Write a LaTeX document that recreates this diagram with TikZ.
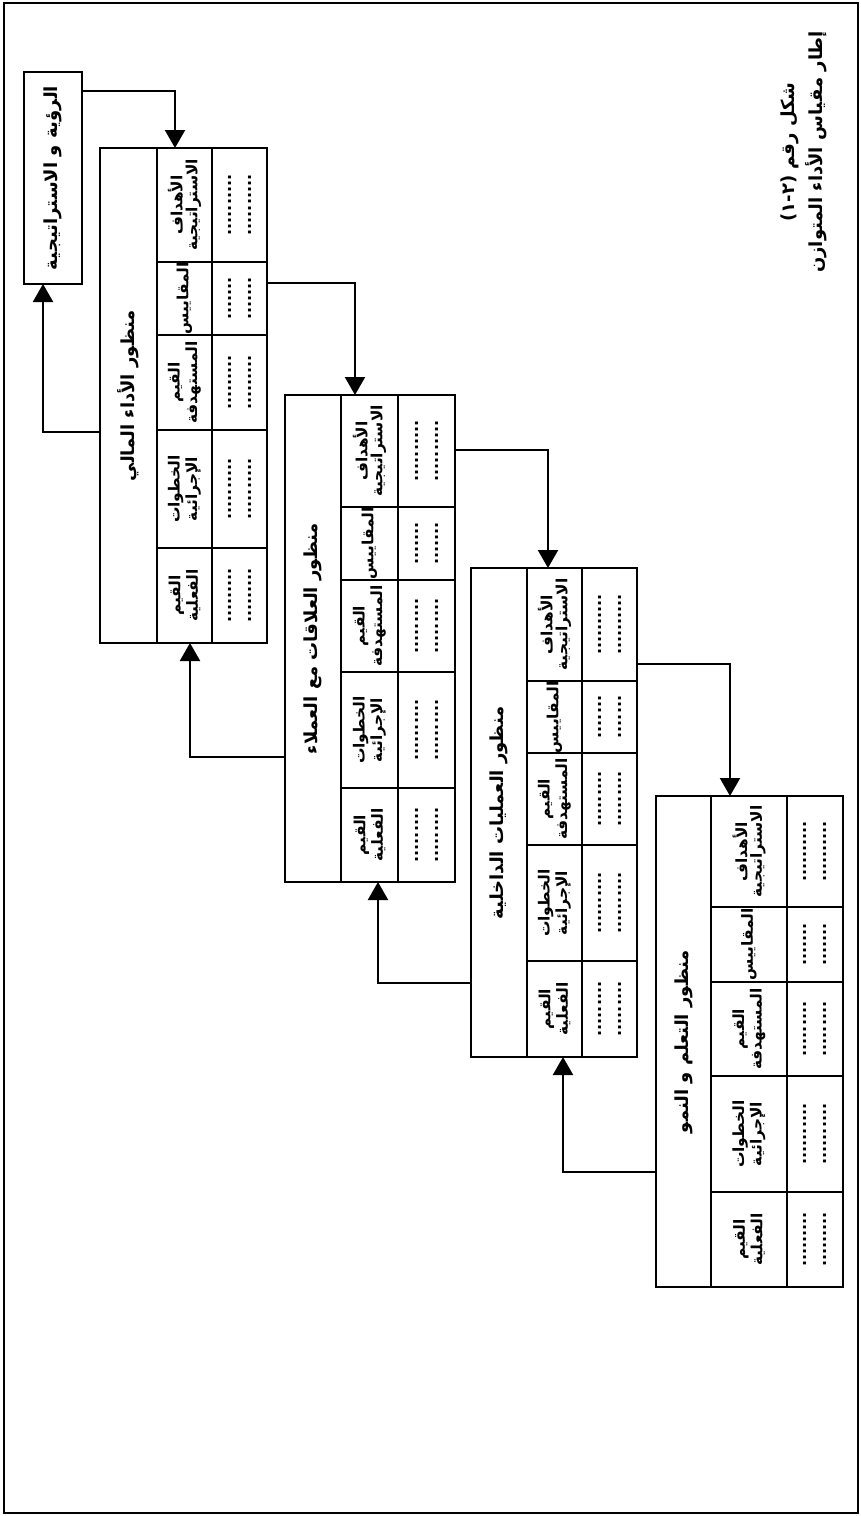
\documentclass[tikz,border=0pt]{standalone}
\usepackage{fontspec}
\usetikzlibrary{arrows.meta,calc}
\newfontfamily\arabicfont[Script=Arabic]{DejaVu Sans}
\TeXXeTstate=1
\newcommand\rtl[1]{\beginR #1\endR}

% column labels of every perspective table
\newcommand\Lgoal{\rtl{الأهداف}\\\rtl{الاستراتيجية}}
\newcommand\Lmeas{\rtl{المقاييس}}
\newcommand\Ltarget{\rtl{القيم}\\\rtl{المستهدفة}}
\newcommand\Lsteps{\rtl{الخطوات}\\\rtl{الإجرائية}}
\newcommand\Lactual{\rtl{القيم}\\\rtl{الفعلية}}

% one header cell and the dotted cell beside it (#8: extra label style)
\newcommand\cellpair[8]{%
  \node[box, anchor=north west, minimum width={(\xc-\xb)*0.5pt}, minimum height={(#4-#3)*0.5pt}] (p#1h#2) at (\xb,#3) {};
  \node[box, anchor=north west, minimum width={(\xd-\xc)*0.5pt}, minimum height={(#4-#3)*0.5pt}] (p#1d#2) at (\xc,#3) {};
  \node[lbl,#8] (p#1hl#2) at (p#1h#2.center) {#5};
  \node[dotsty] (p#1dl#2) at (p#1d#2.center) {#6\\#7};
}

% a whole perspective: outer frame, title strip and five columns
\newcommand\panel[2]{%
  \node[box, anchor=north west, minimum width={(\xd-\xa)*0.5pt}, minimum height={(\yf-\ya)*0.5pt}] (p#1) at (\xa,\ya) {};
  \node[box, anchor=north west, minimum width={(\xb-\xa)*0.5pt}, minimum height={(\yf-\ya)*0.5pt}] (p#1t) at (\xa,\ya) {};
  \node[ttl] (p#1title) at (p#1t.center) {#2};
  \cellpair{#1}{1}{\ya}{\yb}{\Lgoal}{..........}{..........}{}
  \cellpair{#1}{2}{\yb}{\yc}{\Lmeas}{.......}{.......}{align=none}
  \cellpair{#1}{3}{\yc}{\yd}{\Ltarget}{.........}{.........}{}
  \cellpair{#1}{4}{\yd}{\ye}{\Lsteps}{..........}{..........}{}
  \cellpair{#1}{5}{\ye}{\yf}{\Lactual}{.........}{.........}{}
}

\begin{document}
\begin{tikzpicture}[x=0.5pt,y=-0.5pt,
  box/.style={draw, line width=0.9pt, inner sep=0pt, outer sep=0pt, rectangle},
  lbl/.style={rotate=90, align=center, inner sep=0pt,
    font=\arabicfont\bfseries\fontsize{7.7}{7.4}\selectfont},
  dotsty/.style={rotate=90, align=center, inner sep=0pt,
    font=\arabicfont\bfseries\fontsize{8}{10}\selectfont},
  ttl/.style={rotate=90, inner sep=0pt,
    font=\arabicfont\bfseries\fontsize{9}{11}\selectfont},
  captxt/.style={rotate=90, align=center, inner sep=0pt,
    font=\arabicfont\bfseries\fontsize{9}{14}\selectfont},
  link/.style={line width=1.1pt, -{Triangle[length=9pt,width=10pt]}},
]
\useasboundingbox (0,0) rectangle (861,1516);

% page frame
\draw[line width=1pt] (4,3) rectangle (858,1513);

% caption
\node[captxt] (caption) at (804,152) {\beginR شكل رقم (٢-١)\endR\\\beginR إطار مقياس الأداء المتوازن\endR};

% vision and strategy
\node[box, anchor=north west, minimum width=29pt, minimum height=106pt] (vis) at (24,72) {};
\node[ttl] (vistxt) at (vis.center) {\beginR الرؤية و الاستراتيجية\endR};

% financial perspective
\def\xa{100}\def\xb{157}\def\xc{212}\def\xd{267}
\def\ya{148}\def\yb{262}\def\yc{335}\def\yd{430}\def\ye{548}\def\yf{643}
\panel{1}{\beginR منظور الأداء المالي\endR}

% customer perspective
\def\xa{285}\def\xb{341}\def\xc{398}\def\xd{455}
\def\ya{395}\def\yb{507}\def\yc{580}\def\yd{672}\def\ye{788}\def\yf{882}
\panel{2}{\beginR منظور العلاقات مع العملاء\endR}

% internal process perspective
\def\xa{471}\def\xb{527}\def\xc{582}\def\xd{637}
\def\ya{568}\def\yb{681}\def\yc{753}\def\yd{845}\def\ye{961}\def\yf{1057}
\panel{3}{\beginR منظور العمليات الداخلية\endR}

% learning and growth perspective
\def\xa{656}\def\xb{711}\def\xc{787}\def\xd{843}
\def\ya{796}\def\yb{907}\def\yc{982}\def\yd{1076}\def\ye{1192}\def\yf{1287}
\panel{4}{\beginR منظور التعلم و النمو\endR}

% connector end points on the box edges
\coordinate (vOut) at ($(vis.north east)+(0,19)$);
\coordinate (vIn)  at ($(vis.south west)+(19,0)$);
\coordinate (p1in) at ($(p1.north west)+(75,0)$);
\coordinate (p1out) at ($(p1.north east)+(0,135)$);
\coordinate (p1back) at ($(p1.north west)+(0,284)$);
\coordinate (p1up) at ($(p1.south west)+(90,0)$);
\coordinate (p2in) at ($(p2.north west)+(70,0)$);
\coordinate (p2out) at ($(p2.north east)+(0,55)$);
\coordinate (p2back) at ($(p2.north west)+(0,362)$);
\coordinate (p2up) at ($(p2.south west)+(93,0)$);
\coordinate (p3in) at ($(p3.north west)+(77,0)$);
\coordinate (p3out) at ($(p3.north east)+(0,96)$);
\coordinate (p3back) at ($(p3.north west)+(0,415)$);
\coordinate (p3up) at ($(p3.south west)+(92,0)$);
\coordinate (p4in) at ($(p4.north west)+(74,0)$);
\coordinate (p4back) at ($(p4.north west)+(0,376)$);

% cascade down
\draw[link] (vOut) -| (p1in);
\draw[link] (p1out) -| (p2in);
\draw[link] (p2out) -| (p3in);
\draw[link] (p3out) -| (p4in);

% feedback up
\draw[link] (p1back) -| (vIn);
\draw[link] (p2back) -| (p1up);
\draw[link] (p3back) -| (p2up);
\draw[link] (p4back) -| (p3up);
\end{tikzpicture}
\end{document}
